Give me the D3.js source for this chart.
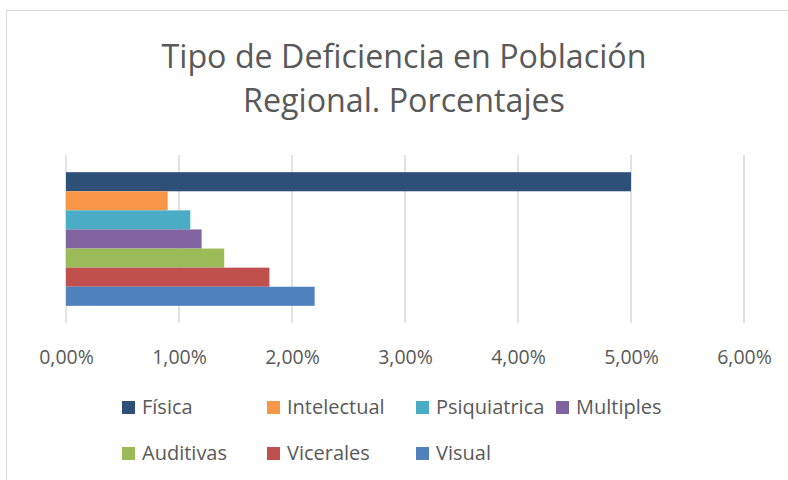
<!DOCTYPE html>
<html>
<head>
<meta charset="utf-8">
<script src="https://cdn.jsdelivr.net/npm/d3@7"></script>
<style>
  body { margin: 0; background: #fff; }
  text { font-family: "Open Sans", "Noto Sans", sans-serif; fill: #595959; }
</style>
</head>
<body>
<div id="my_dataviz"></div>
<script>
// DATA ===========================================================================================
const categories = ['Física', 'Intelectual', 'Psiquiatrica', 'Multiples', 'Auditivas', 'Vicerales', 'Visual']
const values = [0.050, 0.009, 0.011, 0.012, 0.014, 0.018, 0.022]
const colors = ['#2E4F78', '#F79646', '#4BACC6', '#8064A2', '#9BBB59', '#C0504D', '#4F81BD']
const ticks = [0, 0.01, 0.02, 0.03, 0.04, 0.05, 0.06]
const titleLines = ['Tipo de Deficiencia en Población', 'Regional. Porcentajes']

const data = categories.map((c, i) => ({name: c, value: values[i], color: colors[i]}))

// SET UP =========================================================================================
const width = 788
const height = 480
const plot = {left: 66, right: 744, top: 155, bottom: 323}

const svg = d3.select('#my_dataviz')
  .append('svg')
  .attr('width', width)
  .attr('height', height)

// chart border
svg.append('rect')
  .attr('x', 6.5)
  .attr('y', 10.5)
  .attr('width', 800)
  .attr('height', 500)
  .attr('fill', 'none')
  .attr('stroke', '#d9d9d9')
  .attr('stroke-width', 1)

// title
svg.append('g').selectAll('text')
  .data(titleLines)
  .join('text')
  .attr('x', 404)
  .attr('y', (d, i) => 68 + i * 44)
  .attr('text-anchor', 'middle')
  .attr('font-size', 33)
  .attr('textLength', (d, i) => i === 0 ? 485 : 322)
  .attr('lengthAdjust', 'spacingAndGlyphs')
  .text(d => d)

// SCALES AND AXES ================================================================================
const x = d3.scaleLinear()
  .domain([0, 0.06])
  .range([plot.left, plot.right])

const y = d3.scaleBand()
  .domain(categories)
  .range([plot.top, plot.bottom])
  .paddingInner(0)
  .paddingOuter(0.9)

// gridlines
svg.append('g').selectAll('line')
  .data(ticks)
  .join('line')
  .attr('x1', d => x(d))
  .attr('x2', d => x(d))
  .attr('y1', plot.top)
  .attr('y2', plot.bottom)
  .attr('stroke', '#d9d9d9')
  .attr('stroke-width', 1.5)

const fmt = d => d3.format('.2f')(d * 100).replace('.', ',') + '%'

const xAxis = svg.append('g')
  .attr('transform', `translate(0, ${plot.bottom})`)
  .call(d3.axisBottom(x).tickValues(ticks).tickFormat(fmt).tickSize(0).tickPadding(27))
xAxis.select('.domain').remove()
xAxis.selectAll('text')
  .attr('font-size', 19.5)
  .attr('font-family', '"Open Sans", sans-serif')
  .attr('fill', '#595959')

// MARKS ==========================================================================================
svg.append('g').selectAll('rect')
  .data(data)
  .join('rect')
  .attr('x', x(0))
  .attr('y', d => y(d.name))
  .attr('width', d => x(d.value) - x(0))
  .attr('height', y.bandwidth())
  .attr('fill', d => d.color)

// LEGEND =========================================================================================
const legendCols = [122, 267, 416, 556]
const legendRows = [407, 453]

const legend = svg.append('g').selectAll('g')
  .data(data)
  .join('g')
  .attr('transform', (d, i) => `translate(${legendCols[i % 4]}, ${legendRows[Math.floor(i / 4)]})`)

legend.append('rect')
  .attr('x', 0)
  .attr('y', -6)
  .attr('width', 13)
  .attr('height', 13)
  .attr('fill', d => d.color)

legend.append('text')
  .attr('x', 20)
  .attr('y', 0)
  .attr('dy', '0.35em')
  .attr('font-size', 20)
  .text(d => d.name)
</script>
</body>
</html>
